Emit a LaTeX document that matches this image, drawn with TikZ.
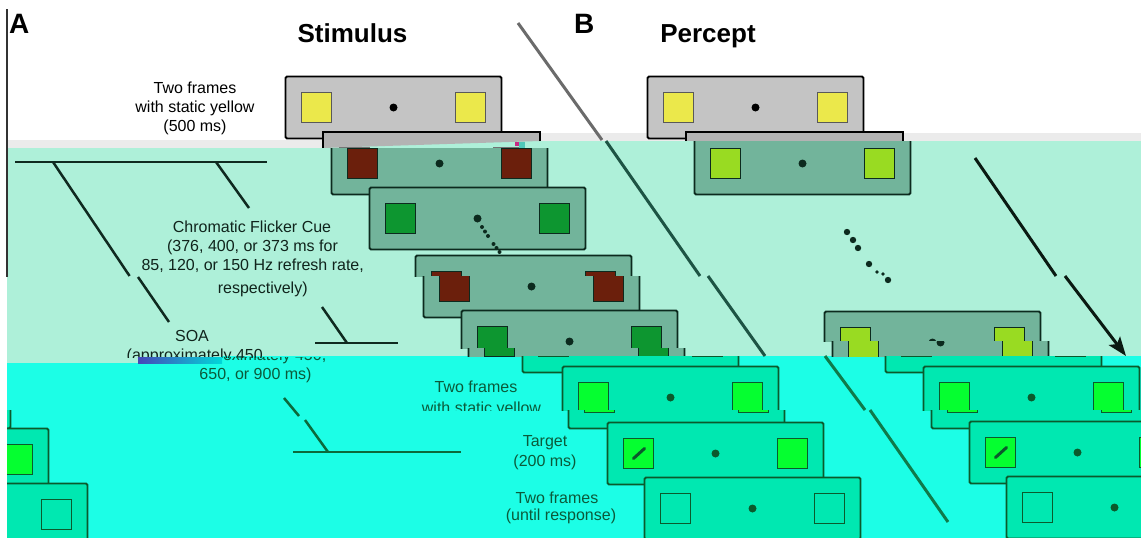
\documentclass[tikz,border=0pt]{standalone}
\usepackage{fontspec}
\setmainfont{Liberation Sans}
\usetikzlibrary{calc,arrows.meta}
\definecolor{bandgray}{HTML}{EBEBEB}
\definecolor{mintbg}{HTML}{AEF0D9}
\definecolor{cyanbg}{HTML}{1CFEE6}
\definecolor{framegray}{HTML}{C4C4C4}
\definecolor{framegrayb}{HTML}{B3B3B3}
\definecolor{yel}{HTML}{EBE84B}
\definecolor{mintframe}{HTML}{72B49B}
\definecolor{mintstroke}{HTML}{0C2A1E}
\definecolor{brownsq}{HTML}{6B1F0C}
\definecolor{greensq}{HTML}{0D9630}
\definecolor{ygsq}{HTML}{99DB22}
\definecolor{cyanframe}{HTML}{00E8B1}
\definecolor{cyanstroke}{HTML}{0B5A2C}
\definecolor{brightsq}{HTML}{05FF30}
\definecolor{lineg}{HTML}{6B6B6B}
\definecolor{linem}{HTML}{1D5444}
\definecolor{linec}{HTML}{0F7A4A}
\definecolor{arrowc}{HTML}{0A1A12}
\definecolor{brk}{HTML}{0F2A20}
\definecolor{brkc}{HTML}{0B6A3C}
\definecolor{txtm}{HTML}{10241C}
\definecolor{txtc}{HTML}{0B5A3A}
\definecolor{leftline}{HTML}{333333}
\newcommand{\mkframe}[6]{%
  \node[#3] (#1) at (#2) {};
  \node[#4] (#1-l) at ($(#1.center)+(-77,0)$) {};
  \node[#5] (#1-r) at ($(#1.center)+(77,0)$) {};
  \node[#6] (#1-c) at (#1.center) {};%
}
\begin{document}
\begin{tikzpicture}[x=1pt,y=-1pt,
  fr/.style={minimum width=216pt, minimum height=62pt, inner sep=0pt, outer sep=0pt, line width=1.9pt, rounded corners=1.5pt},
  frG/.style={fr, draw=black, fill=framegray},
  frM/.style={fr, draw=mintstroke, fill=mintframe},
  frC/.style={fr, draw=cyanstroke, fill=cyanframe},
  sqbox/.style={minimum width=30pt, minimum height=30pt, inner sep=0pt, outer sep=0pt, line width=1.2pt},
  sqG/.style={sqbox, draw=black!65, fill=yel},
  sqM/.style={sqbox, draw=mintstroke, fill=#1},
  sqC/.style={sqbox, draw=cyanstroke, fill=#1},
  dotG/.style={circle, fill=black, minimum size=8pt, inner sep=0pt},
  dotM/.style={circle, fill=mintstroke, minimum size=8pt, inner sep=0pt},
  dotC/.style={circle, fill=cyanstroke, minimum size=8pt, inner sep=0pt},
  lbl/.style={font=\fontsize{16pt}{19pt}\selectfont, inner sep=0pt, anchor=base},
  ttl/.style={font=\fontsize{26pt}{30pt}\selectfont\bfseries, inner sep=0pt, anchor=base},
  pnl/.style={font=\fontsize{28pt}{32pt}\selectfont\bfseries, inner sep=0pt, anchor=base west},
  brkline/.style={draw=brk, line width=2.5pt},
  brkcline/.style={draw=brkc, line width=2.5pt},
  slash/.style={draw=cyanstroke, line width=3pt, line cap=round}
]
\useasboundingbox (0,0) rectangle (1141,538);
\clip (0,0) rectangle (1141,538);
% backgrounds
\fill[white] (0,0) rectangle (1141,538);
\fill[bandgray] (323,133) rectangle (1141,141);
\fill[bandgray] (7,140) rectangle (323,148);
\fill[mintbg] (7,148) rectangle (331,363);
\fill[mintbg] (331,141) rectangle (1141,357);
\fill[cyanbg] (222,356) rectangle (1141,538);
\fill[cyanbg] (7,363) rectangle (222,538);
\coordinate (v1) at (7,9); \coordinate (v2) at (7,277);
\draw[leftline, line width=1.2pt] (v1) -- (v2);

% white region frames
\mkframe{a1}{393.5,107.5}{frG}{sqG}{sqG}{dotG}
\mkframe{b1}{755.5,107.5}{frG}{sqG}{sqG}{dotG}
% gray band parts of second frames
\filldraw[fill=framegrayb, draw=black, line width=1.9pt] (323,148) -- (323,132) -- (540,132) -- (540,141);
\draw[black!55, line width=1.2pt] (339,147.3) -- (370,147.3) (493,147.3) -- (524,147.3);
\filldraw[fill=framegrayb, draw=black, line width=1.9pt] (686,141) -- (686,132) -- (903,132) -- (903,141);

% panel B diagonal, white part
\coordinate (g1) at (518,23); \coordinate (g2) at (602,140);
\draw[lineg, line width=3pt] (g1) -- (g2);

% upper mint band
\begin{scope}
\clip (0,148) rectangle (1141,276);
\mkframe{a2}{439.5,163.5}{frM}{sqM=brownsq}{sqM=brownsq}{dotM}
\end{scope}
\fill[magenta!80!black] (515,142) rectangle (519,146);
\fill[mintframe!70!cyan] (519,142) rectangle (525,148);
\begin{scope}
\clip (0,141) rectangle (1141,276);
\mkframe{b2}{802.5,163.5}{frM}{sqM=ygsq}{sqM=ygsq}{dotM}
\mkframe{a3}{477.5,218.5}{frM}{sqM=greensq}{sqM=greensq}{dotM}
\mkframe{a4}{523.5,286.5}{frM}{sqM=brownsq}{sqM=brownsq}{dotM}
\end{scope}
% lower mint band
\begin{scope}
\clip (0,276) rectangle (1141,356);
\mkframe{a4s}{531.5,286.5}{frM}{sqM=brownsq}{sqM=brownsq}{dotM}
\end{scope}
\begin{scope}
\clip (0,276) rectangle (1141,348);
\mkframe{a5}{569.5,341.5}{frM}{sqM=greensq}{sqM=greensq}{dotM}
\end{scope}
\begin{scope}
\clip (0,348) rectangle (1141,356);
\mkframe{a5s}{576.5,341.5}{frM}{sqM=greensq}{sqM=greensq}{dotM}
\end{scope}
\begin{scope}
\clip (0,276) rectangle (1141,341);
\mkframe{b3}{932.5,342.5}{frM}{sqM=ygsq}{sqM=ygsq}{dotM}
\end{scope}
\begin{scope}
\clip (0,341) rectangle (1141,356);
\mkframe{b3s}{940.5,342.5}{frM}{sqM=ygsq}{sqM=ygsq}{dotM}
\end{scope}

% ellipsis dots
\foreach \p in {(482,227),(485,231.5),(488,236),(493.5,244),(496.5,248),(499.5,252)}
  \fill[mintstroke] \p circle (2);
\foreach \p in {(847,232),(853,240),(858,248),(869,264),(888,280)}
  \fill[mintstroke] \p circle (3.2);
\foreach \p in {(877,272),(883,274)}
  \fill[mintstroke] \p circle (1.8);

% panel B diagonal, mint parts
\coordinate (m1) at (606,141); \coordinate (m2) at (700,276);
\coordinate (m3) at (708,276); \coordinate (m4) at (765,356);
\draw[linem, line width=3pt] (m1) -- (m2);
\draw[linem, line width=3pt] (m3) -- (m4);
% arrow
\coordinate (r1) at (975,158); \coordinate (r2) at (1056,276);
\coordinate (r3) at (1065,276); \coordinate (r4) at (1126,356);
\draw[arrowc, line width=3pt] (r1) -- (r2);
\draw[arrowc, line width=3pt, -{Stealth[length=19pt,width=14pt,inset=4pt]}] (r3) -- (r4);

% left brackets
\coordinate (k1) at (15,162); \coordinate (k2) at (267,162);
\coordinate (k3) at (53,162); \coordinate (k4) at (129.6,276);
\coordinate (k5) at (216,162); \coordinate (k6) at (249,208);
\coordinate (k7) at (138,277); \coordinate (k8) at (169,322);
\coordinate (k9) at (322,307); \coordinate (k10) at (347,343);
\coordinate (k11) at (315,343); \coordinate (k12) at (398,343);
\draw[brkline] (k1) -- (k2);
\draw[brkline] (k3) -- (k4);
\draw[brkline] (k5) -- (k6);
\draw[brkline] (k7) -- (k8);
\draw[brkline] (k9) -- (k10);
\draw[brkline] (k11) -- (k12);

% cyan region
\begin{scope}
\clip (7,356) rectangle (1141,538);
\mkframe{a6}{630.5,341.5}{frC}{sqC=brightsq}{sqC=brightsq}{dotC}
\mkframe{b7}{993.5,341.5}{frC}{sqC=brightsq}{sqC=brightsq}{dotC}
\begin{scope}
\clip (0,356) rectangle (1141,410);
\mkframe{a7}{670.5,397.5}{frC}{sqC=brightsq}{sqC=brightsq}{dotC}
\mkframe{b4}{1031.5,397.5}{frC}{sqC=brightsq}{sqC=brightsq}{dotC}
\end{scope}
\begin{scope}
\clip (0,410) rectangle (1141,538);
\mkframe{a7s}{676.5,397.5}{frC}{sqC=brightsq}{sqC=brightsq}{dotC}
\mkframe{b4s}{1039.5,397.5}{frC}{sqC=brightsq}{sqC=brightsq}{dotC}
\mkframe{b4w}{-97.5,397.5}{frC}{sqC=brightsq}{sqC=brightsq}{dotC}
\end{scope}
\mkframe{a8}{715.5,453.5}{frC}{sqC=brightsq}{sqC=brightsq}{dotC}
\mkframe{b5}{1077.5,452.5}{frC}{sqC=brightsq}{sqC=brightsq}{dotC}
\mkframe{b5w}{-59.5,459.5}{frC}{sqC=brightsq}{sqC=brightsq}{dotC}
\mkframe{a9}{752.5,508.5}{frC}{sqC=cyanframe}{sqC=cyanframe}{dotC}
\mkframe{b6}{1114.5,507.5}{frC}{sqC=cyanframe}{sqC=cyanframe}{dotC}
\mkframe{b6w}{-20.5,514.5}{frC}{sqC=cyanframe}{sqC=cyanframe}{dotC}
\draw[slash] ($(a8-l.center)+(-5,5)$) -- ($(a8-l.center)+(6,-5)$);
\draw[slash] ($(b5-l.center)+(-5,5)$) -- ($(b5-l.center)+(6,-5)$);
\end{scope}
% panel B diagonal, cyan parts
\coordinate (c1) at (825,356); \coordinate (c2) at (865,410);
\coordinate (c3) at (870,410); \coordinate (c4) at (948,522);
\draw[linec, line width=3pt] (c1) -- (c2);
\draw[linec, line width=3pt] (c3) -- (c4);
% cyan bracket
\coordinate (q1) at (284,398); \coordinate (q2) at (299,416);
\coordinate (q3) at (305,420); \coordinate (q4) at (328,452);
\coordinate (q5) at (293,452); \coordinate (q6) at (461,452);
\draw[brkcline] (q1) -- (q2);
\draw[brkcline] (q3) -- (q4);
\draw[brkcline] (q5) -- (q6);

% texts
\node[pnl] (lblA) at (9,33) {A};
\node[ttl] (ttlS) at (352.5,42.5) {Stimulus};
\node[pnl] (lblB) at (574,33) {B};
\node[ttl] (ttlP) at (708,42.5) {Percept};
\node[lbl] (t1a) at (195,93.5) {Two frames};
\node[lbl] (t1b) at (195,112.5) {with static yellow};
\node[lbl] (t1c) at (195,131.5) {(500 ms)};
\node[lbl, text=txtm] (t2a) at (252,232) {Chromatic Flicker Cue};
\node[lbl, text=txtm] (t2b) at (252.5,251) {(376, 400, or 373 ms for};
\node[lbl, text=txtm] (t2c) at (252.7,270) {85, 120, or 150 Hz refresh rate,};
\node[lbl, text=txtm] (t2d) at (262.7,293.5) {respectively)};
\node[lbl, text=txtm] (t3a) at (192,341.5) {SOA};
\begin{scope}
\clip (0,0) rectangle (1141,357);
\node[lbl, text=txtm] (t3b) at (197,360) {(approximately 450,};
\end{scope}
\begin{scope}
\clip (222,357) rectangle (420,366);
\node[lbl, text=txtc] (t3bx) at (256,360) {(approximately 450,};
\end{scope}
\shade[left color=blue!45!gray, right color=cyan!70!teal] (138,357) rectangle (222,363);
\node[lbl, text=txtc] (t3c) at (255.5,379) {650, or 900 ms)};
\node[lbl, text=txtc] (t4a) at (476,392.5) {Two frames};
\begin{scope}
\clip (0,356) rectangle (1141,410);
\node[lbl, text=txtc] (t4b) at (481.5,413.5) {with static yellow};
\end{scope}
\node[lbl, text=txtc] (t5a) at (545,446.5) {Target};
\node[lbl, text=txtc] (t5b) at (545,466) {(200 ms)};
\node[lbl, text=txtc] (t6a) at (557,503) {Two frames};
\node[lbl, text=txtc] (t6b) at (561,520) {(until response)};
\end{tikzpicture}
\end{document}
